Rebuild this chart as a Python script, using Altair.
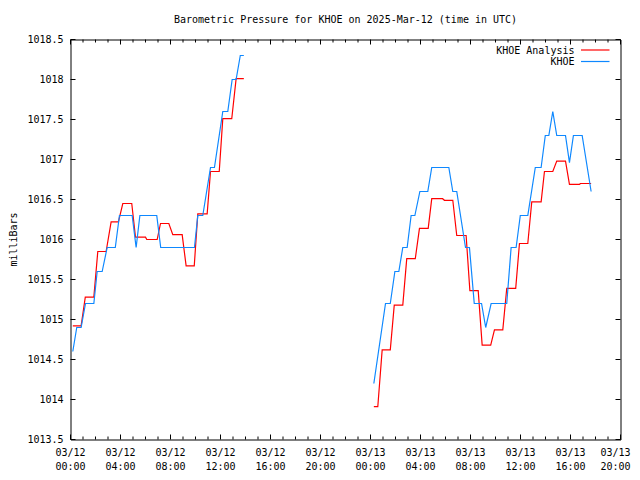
import altair as alt
import pandas as pd
from datetime import datetime, timezone, timedelta

TITLE = "Barometric Pressure for KHOE on 2025-Mar-12 (time in UTC)"
Y_TITLE = "milliBars"
SERIES = ["KHOE Analysis", "KHOE"]
COLORS = ["#ff0000", "#0e88ff"]

# KHOE Analysis (red), two segments
an1_t = ["00:11", "00:51", "01:11", "01:52", "02:11", "02:51", "03:15", "03:50",
         "04:11", "04:54", "05:12", "06:00", "06:06", "06:56", "07:12", "07:52",
         "08:11", "08:56", "09:15", "09:54", "10:11", "10:56", "11:12", "11:54",
         "12:11", "12:54", "13:15", "13:52"]
an1_v = [1014.92, 1014.92, 1015.28, 1015.28, 1015.85, 1015.85, 1016.22, 1016.22,
         1016.45, 1016.45, 1016.03, 1016.03, 1016.00, 1016.00, 1016.20, 1016.20,
         1016.06, 1016.06, 1015.67, 1015.67, 1016.32, 1016.32, 1016.85, 1016.85,
         1017.51, 1017.51, 1018.01, 1018.01]
an2_t = ["00:16", "00:35", "00:56", "01:35", "01:54", "02:35", "02:54", "03:35",
         "03:55", "04:37", "04:54", "05:46", "05:55", "06:35", "06:54", "07:39",
         "07:57", "08:37", "08:56", "09:37", "09:55", "10:35", "10:54", "11:37",
         "11:55", "12:35", "12:54", "13:39", "13:55", "14:35", "14:54", "15:36",
         "15:55", "16:43", "16:48", "17:39"]
an2_v = [1013.91, 1013.91, 1014.62, 1014.62, 1015.18, 1015.18, 1015.76, 1015.76,
         1016.14, 1016.14, 1016.51, 1016.51, 1016.49, 1016.49, 1016.05, 1016.05,
         1015.36, 1015.36, 1014.68, 1014.68, 1014.87, 1014.87, 1015.39, 1015.39,
         1015.95, 1015.95, 1016.47, 1016.47, 1016.85, 1016.85, 1016.98, 1016.98,
         1016.69, 1016.69, 1016.70, 1016.70]

# KHOE observations (blue), two segments
ob1_t = ["00:11", "00:30", "00:51", "01:12", "01:52", "02:08", "02:32", "02:56",
         "03:35", "03:55", "04:56", "05:15", "05:33", "06:54", "07:13", "09:55",
         "10:11", "10:35", "11:12", "11:31", "12:11", "12:35", "12:56", "13:15",
         "13:35", "13:52"]
ob1_v = [1014.6, 1014.9, 1014.9, 1015.2, 1015.2, 1015.6, 1015.6, 1015.9,
         1015.9, 1016.3, 1016.3, 1015.9, 1016.3, 1016.3, 1015.9, 1015.9,
         1016.3, 1016.3, 1016.9, 1016.9, 1017.6, 1017.6, 1018.0, 1018.0,
         1018.3, 1018.3]
ob2_t = ["00:16", "01:12", "01:35", "01:57", "02:16", "02:35", "02:56", "03:15",
         "03:33", "03:57", "04:35", "04:54", "06:16", "06:35", "06:54", "07:36",
         "07:55", "08:18", "08:53", "09:13", "09:39", "10:54", "11:15", "11:39",
         "11:59", "12:35", "13:11", "13:39", "13:59", "14:16", "14:35", "14:54",
         "15:36", "15:55", "16:14", "16:56", "17:39"]
ob2_v = [1014.2, 1015.2, 1015.2, 1015.6, 1015.6, 1015.9, 1015.9, 1016.3,
         1016.3, 1016.6, 1016.6, 1016.9, 1016.9, 1016.6, 1016.6, 1015.9,
         1015.9, 1015.2, 1015.2, 1014.9, 1015.2, 1015.2, 1015.9, 1015.9,
         1016.3, 1016.3, 1016.9, 1016.9, 1017.3, 1017.3, 1017.6, 1017.3,
         1017.3, 1016.96, 1017.3, 1017.3, 1016.6]

Y_TICKS = [1013.5, 1014, 1014.5, 1015, 1015.5, 1016, 1016.5, 1017, 1017.5, 1018, 1018.5]
Y_LABELS = ["1013.5", "1014", "1014.5", "1015", "1015.5", "1016", "1016.5",
            "1017", "1017.5", "1018", "1018.5"]

START = datetime(2025, 3, 12, 0, 0, tzinfo=timezone.utc)
END = START + timedelta(hours=44)


def iso(day, hm):
    return f"2025-03-{day}T{hm}:00Z"


def ms(dt):
    return int(dt.timestamp() * 1000)


def frame(series, segs):
    rows = []
    for seg, (day, ts, vs) in enumerate(segs):
        for t, v in zip(ts, vs):
            rows.append({"series": series, "seg": seg, "time": iso(day, t), "value": v})
    return pd.DataFrame(rows)


df_an = frame(SERIES[0], [("12", an1_t, an1_v), ("13", an2_t, an2_v)])
df_ob = frame(SERIES[1], [("12", ob1_t, ob1_v), ("13", ob2_t, ob2_v)])

major_dt = [START + timedelta(hours=h) for h in range(0, 45, 4)]
minor_dt = [START + timedelta(hours=h) for h in range(1, 44) if h % 4 != 0]
df_xmaj = pd.DataFrame({
    "t": [d.strftime("%Y-%m-%dT%H:%M:00Z") for d in major_dt],
    "date": [d.strftime("%m/%d") for d in major_dt],
    "hm": [d.strftime("%H:%M") for d in major_dt],
})
df_xmin = pd.DataFrame({"t": [d.strftime("%Y-%m-%dT%H:%M:00Z") for d in minor_dt]})
df_y = pd.DataFrame({"v": Y_TICKS, "label": Y_LABELS})

W, H = 550, 400
FONT = "DejaVu Sans Mono"
FS = 10
MAJ, MIN = 5, 3

x_scale = alt.Scale(type="utc", domain=[ms(START), ms(END)])
y_scale = alt.Scale(domain=[1013.5, 1018.5], nice=False, zero=False)
color_scale = alt.Scale(domain=SERIES, range=COLORS)


def line_layer(df):
    return alt.Chart(df).mark_line(strokeWidth=1.2, clip=True).encode(
        x=alt.X("time:T", scale=x_scale, axis=None),
        y=alt.Y("value:Q", scale=y_scale, axis=None),
        color=alt.Color("series:N", scale=color_scale, legend=None),
        detail="seg:N",
    )


def xticks(df, y0, y1):
    return alt.Chart(df).mark_rule(color="black", strokeWidth=1).encode(
        x=alt.X("t:T", scale=x_scale, axis=None), y=alt.value(y0), y2=alt.value(y1))


def yticks(x0, x1):
    return alt.Chart(df_y).mark_rule(color="black", strokeWidth=1).encode(
        y=alt.Y("v:Q", scale=y_scale, axis=None), x=alt.value(x0), x2=alt.value(x1))


def xlabels(df, field, dy, dx=0):
    return alt.Chart(df).mark_text(
        font=FONT, fontSize=FS, color="black", align="center", baseline="middle", dx=dx).encode(
        x=alt.X("t:T", scale=x_scale, axis=None), y=alt.value(H + dy), text=f"{field}:N")


ylabels = alt.Chart(df_y).mark_text(
    font=FONT, fontSize=FS, color="black", align="right", baseline="middle").encode(
    y=alt.Y("v:Q", scale=y_scale, axis=None), x=alt.value(-7), text="label:N")

ytitle = alt.Chart(pd.DataFrame({"s": [Y_TITLE]})).mark_text(
    font=FONT, fontSize=FS, color="black", angle=270, align="center", baseline="middle").encode(
    text="s:N", x=alt.value(-57), y=alt.value(H / 2))

df_xlab_main = df_xmaj.iloc[:-1]
df_xlab_last = df_xmaj.iloc[-1:]

layers = [
    line_layer(df_an),
    line_layer(df_ob),
    xticks(df_xmaj, H, H - MAJ), xticks(df_xmaj, 0, MAJ),
    xticks(df_xmin, H, H - MIN), xticks(df_xmin, 0, MIN),
    yticks(0, MAJ), yticks(W, W - MAJ),
    xlabels(df_xlab_main, "date", 13.5), xlabels(df_xlab_main, "hm", 27),
    xlabels(df_xlab_last, "date", 13.5, -5), xlabels(df_xlab_last, "hm", 27, -5),
    ylabels, ytitle,
]

# legend (top right, text left of sample line)
for i, (name, col) in enumerate(zip(SERIES, COLORS)):
    ly = 11 + 11.5 * i
    layers.append(alt.Chart(pd.DataFrame({"s": [name]})).mark_text(
        align="right", baseline="middle", font=FONT, fontSize=FS, color="black").encode(
        text="s:N", x=alt.value(504), y=alt.value(ly)))
    layers.append(alt.Chart(pd.DataFrame({"s": [name]})).mark_rule(
        color=col, strokeWidth=1.2).encode(
        x=alt.value(510.5), x2=alt.value(539), y=alt.value(ly - 0.5)))

chart = alt.layer(*layers).properties(
    width=W, height=H,
    title=alt.TitleParams(TITLE, font=FONT, fontSize=FS, fontWeight="normal", color="black",
                          anchor="middle", frame="group", baseline="alphabetic", offset=2),
    autosize=alt.AutoSizeParams(type="none"),
    padding={"left": 62.5, "top": 31.5, "right": 11, "bottom": 31.5},
    background="white",
).configure_view(stroke="black", strokeWidth=1)

chart.save("out.html", embed_options={"renderer": "svg", "actions": False})
